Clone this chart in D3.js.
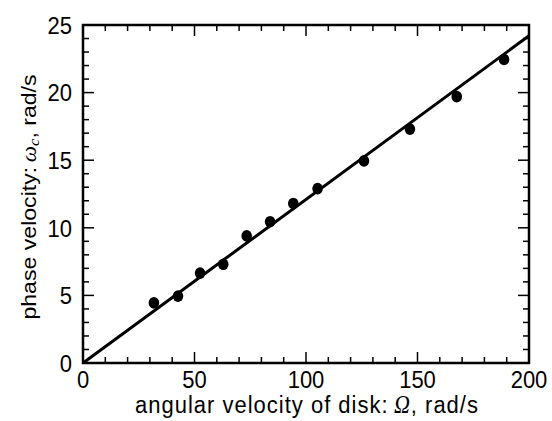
<!DOCTYPE html>
<html>
<head>
<meta charset="utf-8">
<script src="https://cdn.jsdelivr.net/npm/d3@7"></script>
<style>
  body { margin: 0; background: #fff; }
  text { font-family: "Liberation Sans", Arial, Helvetica, sans-serif; fill: #000; }
</style>
</head>
<body>
<div id="chart"></div>
<script>
// measured disk angular velocity (rad/s) vs phase velocity (rad/s)
const omegaDisk = [31.8, 42.6, 52.5, 62.9, 73.4, 83.9, 94.3, 105.2, 126.0, 146.6, 167.6, 188.8];
const omegaC = [4.45, 4.95, 6.65, 7.3, 9.4, 10.45, 11.8, 12.9, 14.95, 17.3, 19.7, 22.45];
const fitLine = [[0, 0], [200, 24.2]];
const xTicks = [0, 50, 100, 150, 200];
const yTicks = [0, 5, 10, 15, 20, 25];

const width = 552, height = 421;
const margin = { left: 83, right: 23, top: 25, bottom: 58 };
const stretch = 1.1; // the picture is a bit taller than wide, text too

const svg = d3.select("#chart")
    .append("svg")
    .attr("width", width)
    .attr("height", height);

const x = d3.scaleLinear().domain([0, 200]).range([margin.left, width - margin.right]);
const y = d3.scaleLinear().domain([0, 25]).range([height - margin.bottom, margin.top]);

const x0 = x(0), x1 = x(200), y0 = y(0), y1 = y(25);

// inward ticks on all four sides
const ticks = svg.append("g").attr("stroke", "#000").attr("stroke-width", 1.5);
d3.range(0, 201, 10).forEach(v => {
    const len = v % 50 === 0 ? 11 : 6;
    ticks.append("line").attr("x1", x(v)).attr("x2", x(v)).attr("y1", y0).attr("y2", y0 - len);
    ticks.append("line").attr("x1", x(v)).attr("x2", x(v)).attr("y1", y1).attr("y2", y1 + len);
});
d3.range(0, 26, 1).forEach(v => {
    const len = v % 5 === 0 ? 11 : 6;
    ticks.append("line").attr("y1", y(v)).attr("y2", y(v)).attr("x1", x0).attr("x2", x0 + len);
    ticks.append("line").attr("y1", y(v)).attr("y2", y(v)).attr("x1", x1).attr("x2", x1 - len);
});

svg.append("rect")
    .attr("x", x0).attr("y", y1)
    .attr("width", x1 - x0).attr("height", y0 - y1)
    .attr("fill", "none").attr("stroke", "#000").attr("stroke-width", 2.5);

// tick labels
svg.append("g").selectAll("text")
    .data(xTicks)
    .join("text")
    .attr("transform", d => `translate(${x(d)},${y0 + 25}) scale(1,${stretch})`)
    .attr("text-anchor", "middle")
    .style("font-size", "22px")
    .text(d => d);

svg.append("g").selectAll("text")
    .data(yTicks)
    .join("text")
    .attr("transform", d => `translate(${x0 - 11},${y(d)}) scale(1,${stretch})`)
    .attr("dy", "0.36em")
    .attr("text-anchor", "end")
    .style("font-size", "22px")
    .text(d => d);

// fit line
svg.append("path")
    .datum(fitLine)
    .attr("d", d3.line().x(d => x(d[0])).y(d => y(d[1])))
    .attr("fill", "none")
    .attr("stroke", "#000")
    .attr("stroke-width", 3);

// data points
svg.append("g").selectAll("ellipse")
    .data(omegaDisk.map((v, i) => [v, omegaC[i]]))
    .join("ellipse")
    .attr("cx", d => x(d[0]))
    .attr("cy", d => y(d[1]))
    .attr("rx", 5.3)
    .attr("ry", 5.8)
    .attr("fill", "#000");

// axis titles
const serif = "Liberation Serif, Times New Roman, serif";
const xt = svg.append("text")
    .attr("transform", `translate(307,413) scale(1,${stretch})`)
    .attr("text-anchor", "middle")
    .style("font-size", "22px")
    .style("letter-spacing", "1px");
xt.append("tspan").text("angular velocity of disk:\u2009");
xt.append("tspan").attr("font-family", serif).attr("font-style", "italic").text("Ω");
xt.append("tspan").text(", rad/s");

const yt = svg.append("text")
    .attr("transform", `translate(36,197) rotate(-90) scale(${stretch},1)`)
    .attr("text-anchor", "middle")
    .style("font-size", "21px");
yt.append("tspan").text("phase velocity:\u2009");
yt.append("tspan").attr("font-family", serif).attr("font-style", "italic").text("ω");
yt.append("tspan").attr("font-family", serif).attr("font-style", "italic")
    .attr("dy", 3).style("font-size", "15px").text("c");
yt.append("tspan").attr("dy", -3).text(", rad/s");
</script>
</body>
</html>
